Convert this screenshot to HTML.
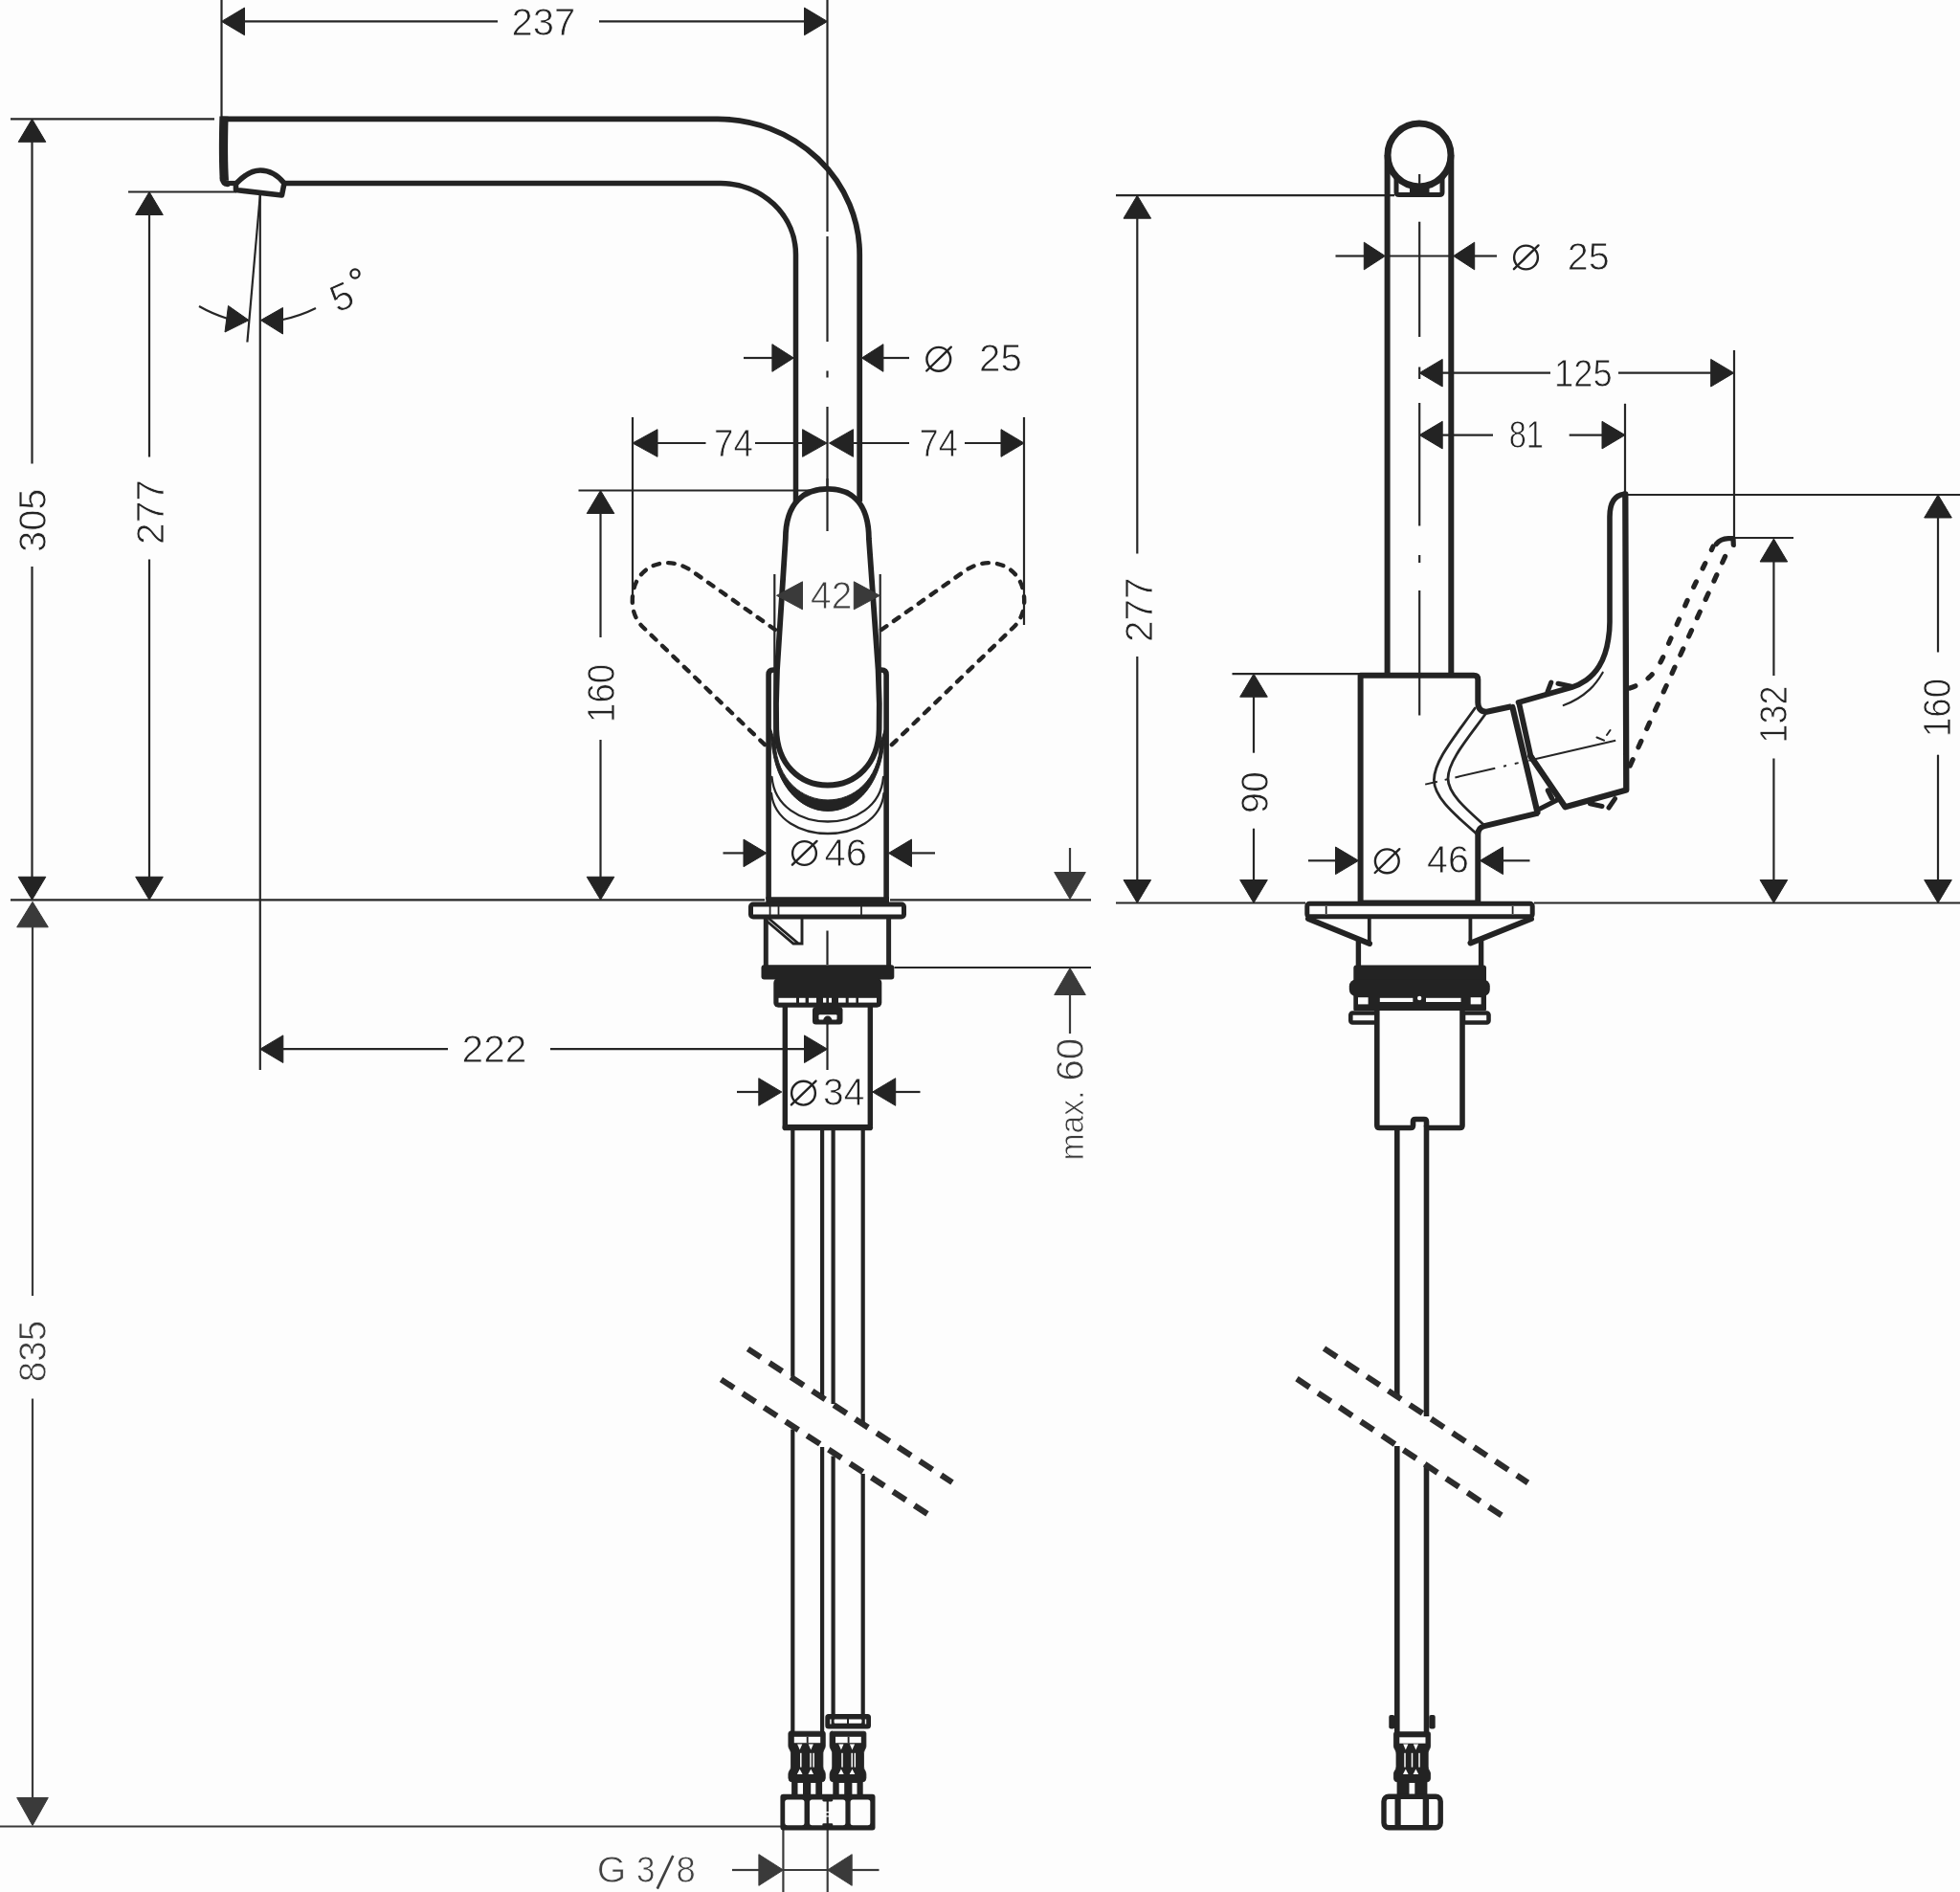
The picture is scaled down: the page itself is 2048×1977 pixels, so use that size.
<!DOCTYPE html>
<html lang="en">
<head>
<meta charset="utf-8">
<title>Dimension drawing</title>
<style>
html,body{margin:0;padding:0;background:#fdfdfd;}
body{width:2048px;height:1977px;overflow:hidden;font-family:"Liberation Sans",sans-serif;}
svg{display:block;will-change:transform;}
svg text{font-family:"Liberation Sans",sans-serif;stroke:#fdfdfd;stroke-width:0.8px;}
</style>
</head>
<body>
<svg width="2048" height="1977" viewBox="0 0 2048 1977">
<rect x="0" y="0" width="2048" height="1977" fill="#fdfdfd"/>
<line x1="231.5" y1="0" x2="231.5" y2="122" stroke="#262626" stroke-width="2.2" stroke-linecap="butt" />
<polygon points="231.5,22.4 255.5,8.1 255.5,36.7" fill="#232323" stroke="#232323" stroke-width="1" stroke-linejoin="round"/>
<line x1="254" y1="22.4" x2="520" y2="22.4" stroke="#262626" stroke-width="2.2" stroke-linecap="butt" />
<text x="534.6" y="36.8" font-size="40.2" fill="#232323" textLength="66.8" lengthAdjust="spacingAndGlyphs">237</text>
<line x1="626" y1="22.4" x2="842" y2="22.4" stroke="#262626" stroke-width="2.2" stroke-linecap="butt" />
<polygon points="864.5,22.4 840.5,8.1 840.5,36.7" fill="#232323" stroke="#232323" stroke-width="1" stroke-linejoin="round"/>
<line x1="864.5" y1="0" x2="864.5" y2="242" stroke="#262626" stroke-width="2.2" stroke-linecap="butt" />
<line x1="864.5" y1="247" x2="864.5" y2="357" stroke="#262626" stroke-width="2.2" stroke-linecap="butt" />
<line x1="864.5" y1="387.5" x2="864.5" y2="394.5" stroke="#262626" stroke-width="2.2" stroke-linecap="butt" />
<line x1="864.5" y1="425" x2="864.5" y2="555" stroke="#262626" stroke-width="2.2" stroke-linecap="butt" />
<line x1="864.5" y1="972.5" x2="864.5" y2="1008" stroke="#262626" stroke-width="2.2" stroke-linecap="butt" />
<line x1="864.5" y1="1063" x2="864.5" y2="1118" stroke="#262626" stroke-width="2.2" stroke-linecap="butt" />
<line x1="11" y1="124.3" x2="224" y2="124.3" stroke="#262626" stroke-width="2.2" stroke-linecap="butt" />
<polygon points="33.5,124.3 19.2,148.3 47.8,148.3" fill="#232323" stroke="#232323" stroke-width="1" stroke-linejoin="round"/>
<line x1="33.5" y1="147" x2="33.5" y2="484.5" stroke="#262626" stroke-width="2.2" stroke-linecap="butt" />
<text transform="translate(47.9,576.9) rotate(-90)" x="0" y="0" font-size="40.2" fill="#232323" textLength="66.3" lengthAdjust="spacingAndGlyphs">305</text>
<line x1="33.5" y1="592" x2="33.5" y2="917" stroke="#262626" stroke-width="2.2" stroke-linecap="butt" />
<polygon points="33.5,940.3 19.2,916.3 47.8,916.3" fill="#232323" stroke="#232323" stroke-width="1" stroke-linejoin="round"/>
<line x1="134" y1="200.5" x2="247" y2="200.5" stroke="#262626" stroke-width="2.2" stroke-linecap="butt" />
<polygon points="156.0,200.5 141.7,224.5 170.3,224.5" fill="#232323" stroke="#232323" stroke-width="1" stroke-linejoin="round"/>
<line x1="156" y1="223" x2="156" y2="477.5" stroke="#262626" stroke-width="2.2" stroke-linecap="butt" />
<text transform="translate(170.9,568.9) rotate(-90)" x="0" y="0" font-size="40.2" fill="#232323" textLength="67.8" lengthAdjust="spacingAndGlyphs">277</text>
<line x1="156" y1="584.5" x2="156" y2="917" stroke="#262626" stroke-width="2.2" stroke-linecap="butt" />
<polygon points="156.0,940.3 141.7,916.3 170.3,916.3" fill="#232323" stroke="#232323" stroke-width="1" stroke-linejoin="round"/>
<line x1="11" y1="940.3" x2="799" y2="940.3" stroke="#262626" stroke-width="2.2" stroke-linecap="butt" />
<line x1="930" y1="940.3" x2="1140" y2="940.3" stroke="#262626" stroke-width="2.2" stroke-linecap="butt" />
<line x1="271.8" y1="204" x2="271.8" y2="1118" stroke="#262626" stroke-width="2.2" stroke-linecap="butt" />
<line x1="271.8" y1="204" x2="258.4" y2="357.5" stroke="#262626" stroke-width="2.2" stroke-linecap="butt" />
<path d="M208,320 Q222,328 238,333" stroke="#262626" stroke-width="2.2" fill="none" stroke-linecap="butt" stroke-linejoin="round" />
<polygon points="260,334.6 238.5,319.5 235,347" fill="#232323" stroke="#232323" stroke-width="1" stroke-linejoin="round"/>
<polygon points="272.5,334.6 295.5,321.5 295.5,349" fill="#232323" stroke="#232323" stroke-width="1" stroke-linejoin="round"/>
<path d="M295.5,334 Q314,330 330,322" stroke="#262626" stroke-width="2.2" fill="none" stroke-linecap="butt" stroke-linejoin="round" />
<text transform="translate(352.6,327.3) rotate(-24)" font-size="40.2" fill="#232323">5</text>
<circle cx="371" cy="286" r="4.6" fill="none" stroke="#232323" stroke-width="2.2"/>
<line x1="777" y1="374" x2="808" y2="374" stroke="#262626" stroke-width="2.2" stroke-linecap="butt" />
<polygon points="829.3,374.0 806.9,359.7 806.9,388.3" fill="#232323" stroke="#232323" stroke-width="1" stroke-linejoin="round"/>
<polygon points="900.5,374.0 922.9,359.7 922.9,388.3" fill="#232323" stroke="#232323" stroke-width="1" stroke-linejoin="round"/>
<line x1="922" y1="374" x2="950" y2="374" stroke="#262626" stroke-width="2.2" stroke-linecap="butt" />
<circle cx="980.8" cy="375.3" r="12.4" fill="none" stroke="#232323" stroke-width="2.4"/>
<line x1="968.1999999999999" y1="387.5" x2="993.8" y2="362.7" stroke="#232323" stroke-width="2.4" stroke-linecap="round" />
<text x="1023.1" y="388.0" font-size="40.2" fill="#232323" textLength="44.8" lengthAdjust="spacingAndGlyphs">25</text>
<line x1="661" y1="436" x2="661" y2="622" stroke="#262626" stroke-width="2.2" stroke-linecap="butt" />
<line x1="1070" y1="436" x2="1070" y2="653" stroke="#262626" stroke-width="2.2" stroke-linecap="butt" />
<polygon points="661.0,463.0 687.0,448.7 687.0,477.3" fill="#232323" stroke="#232323" stroke-width="1" stroke-linejoin="round"/>
<line x1="686" y1="463" x2="737.5" y2="463" stroke="#262626" stroke-width="2.2" stroke-linecap="butt" />
<text x="746.1" y="477.0" font-size="40.2" fill="#232323" textLength="40.8" lengthAdjust="spacingAndGlyphs">74</text>
<line x1="789" y1="463" x2="840" y2="463" stroke="#262626" stroke-width="2.2" stroke-linecap="butt" />
<polygon points="864.0,463.0 838.6,448.7 838.6,477.3" fill="#232323" stroke="#232323" stroke-width="1" stroke-linejoin="round"/>
<polygon points="866.5,463.0 891.5,448.7 891.5,477.3" fill="#232323" stroke="#232323" stroke-width="1" stroke-linejoin="round"/>
<line x1="890" y1="463" x2="950" y2="463" stroke="#262626" stroke-width="2.2" stroke-linecap="butt" />
<text x="960.6" y="477.0" font-size="40.2" fill="#232323" textLength="40.3" lengthAdjust="spacingAndGlyphs">74</text>
<line x1="1008" y1="463" x2="1046" y2="463" stroke="#262626" stroke-width="2.2" stroke-linecap="butt" />
<polygon points="1070.0,463.0 1046.0,448.7 1046.0,477.3" fill="#232323" stroke="#232323" stroke-width="1" stroke-linejoin="round"/>
<line x1="604.5" y1="512.5" x2="847" y2="512.5" stroke="#262626" stroke-width="2.2" stroke-linecap="butt" />
<polygon points="627.5,512.5 613.2,536.5 641.8,536.5" fill="#232323" stroke="#232323" stroke-width="1" stroke-linejoin="round"/>
<line x1="627.5" y1="536" x2="627.5" y2="666" stroke="#262626" stroke-width="2.2" stroke-linecap="butt" />
<text transform="translate(641.9,754.9) rotate(-90)" x="0" y="0" font-size="40.2" fill="#232323" textLength="61.1" lengthAdjust="spacingAndGlyphs">160</text>
<line x1="627.5" y1="773" x2="627.5" y2="917" stroke="#262626" stroke-width="2.2" stroke-linecap="butt" />
<polygon points="627.5,940.3 613.2,916.3 641.8,916.3" fill="#232323" stroke="#232323" stroke-width="1" stroke-linejoin="round"/>
<line x1="755.5" y1="891.4" x2="778" y2="891.4" stroke="#262626" stroke-width="2.2" stroke-linecap="butt" />
<polygon points="801.0,891.4 777.0,877.1 777.0,905.7" fill="#232323" stroke="#232323" stroke-width="1" stroke-linejoin="round"/>
<polygon points="928.5,891.4 952.5,877.1 952.5,905.7" fill="#232323" stroke="#232323" stroke-width="1" stroke-linejoin="round"/>
<line x1="951" y1="891.4" x2="977" y2="891.4" stroke="#262626" stroke-width="2.2" stroke-linecap="butt" />
<line x1="1118" y1="886" x2="1118" y2="912" stroke="#3a3a3a" stroke-width="2.2" stroke-linecap="butt" />
<polygon points="1118.0,939.5 1101.7,911.5 1134.3,911.5" fill="#3a3a3a" stroke="#3a3a3a" stroke-width="1" stroke-linejoin="round"/>
<line x1="934.5" y1="1011" x2="1140" y2="1011" stroke="#262626" stroke-width="2.2" stroke-linecap="butt" />
<polygon points="1118.0,1011.5 1101.7,1039.5 1134.3,1039.5" fill="#3a3a3a" stroke="#3a3a3a" stroke-width="1" stroke-linejoin="round"/>
<line x1="1118" y1="1039" x2="1118" y2="1080" stroke="#3a3a3a" stroke-width="2.2" stroke-linecap="butt" />
<text transform="translate(1132.4,1212.6000000000001) rotate(-90)" x="0" y="0" font-size="34.2" fill="#3a3a3a" textLength="73.1" lengthAdjust="spacingAndGlyphs">max.</text>
<text transform="translate(1132.4,1129.8000000000002) rotate(-90)" x="0" y="0" font-size="40.2" fill="#3a3a3a" textLength="45.2" lengthAdjust="spacingAndGlyphs">60</text>
<polygon points="271.8,1096.2 295.8,1081.9 295.8,1110.5" fill="#232323" stroke="#232323" stroke-width="1" stroke-linejoin="round"/>
<line x1="295" y1="1096.2" x2="468" y2="1096.2" stroke="#262626" stroke-width="2.2" stroke-linecap="butt" />
<text x="482.6" y="1110.0" font-size="40.2" fill="#232323" textLength="67.8" lengthAdjust="spacingAndGlyphs">222</text>
<line x1="575" y1="1096.2" x2="841" y2="1096.2" stroke="#262626" stroke-width="2.2" stroke-linecap="butt" />
<polygon points="864.5,1096.2 840.5,1081.9 840.5,1110.5" fill="#232323" stroke="#232323" stroke-width="1" stroke-linejoin="round"/>
<line x1="770" y1="1141" x2="793" y2="1141" stroke="#262626" stroke-width="2.2" stroke-linecap="butt" />
<polygon points="816.8,1141.0 792.8,1126.7 792.8,1155.3" fill="#232323" stroke="#232323" stroke-width="1" stroke-linejoin="round"/>
<polygon points="911.7,1141.0 935.7,1126.7 935.7,1155.3" fill="#232323" stroke="#232323" stroke-width="1" stroke-linejoin="round"/>
<line x1="935" y1="1141" x2="961.5" y2="1141" stroke="#262626" stroke-width="2.2" stroke-linecap="butt" />
<polygon points="34.0,942.3 17.7,968.8 50.3,968.8" fill="#3a3a3a" stroke="#3a3a3a" stroke-width="1" stroke-linejoin="round"/>
<line x1="34" y1="968" x2="34" y2="1354" stroke="#3a3a3a" stroke-width="2.2" stroke-linecap="butt" />
<text transform="translate(47.9,1444.2) rotate(-90)" x="0" y="0" font-size="40.2" fill="#3a3a3a" textLength="64.4" lengthAdjust="spacingAndGlyphs">835</text>
<line x1="34" y1="1461.5" x2="34" y2="1878" stroke="#3a3a3a" stroke-width="2.2" stroke-linecap="butt" />
<polygon points="34.0,1907.5 17.7,1878.5 50.3,1878.5" fill="#3a3a3a" stroke="#3a3a3a" stroke-width="1" stroke-linejoin="round"/>
<line x1="0" y1="1908.5" x2="817" y2="1908.5" stroke="#3a3a3a" stroke-width="2.2" stroke-linecap="butt" />
<line x1="818.4" y1="1912" x2="818.4" y2="1977" stroke="#3a3a3a" stroke-width="2.2" stroke-linecap="butt" />
<line x1="864.7" y1="1912" x2="864.7" y2="1977" stroke="#3a3a3a" stroke-width="2.2" stroke-linecap="butt" />
<line x1="765" y1="1954" x2="793" y2="1954" stroke="#3a3a3a" stroke-width="2.2" stroke-linecap="butt" />
<polygon points="818.4,1954.0 792.9,1937.7 792.9,1970.3" fill="#3a3a3a" stroke="#3a3a3a" stroke-width="1" stroke-linejoin="round"/>
<line x1="818.4" y1="1954" x2="864.7" y2="1954" stroke="#3a3a3a" stroke-width="2.2" stroke-linecap="butt" />
<polygon points="864.7,1954.0 890.2,1937.7 890.2,1970.3" fill="#3a3a3a" stroke="#3a3a3a" stroke-width="1" stroke-linejoin="round"/>
<line x1="890" y1="1954" x2="918.5" y2="1954" stroke="#3a3a3a" stroke-width="2.2" stroke-linecap="butt" />
<text x="623.8000000000001" y="1967.1" font-size="38.6" fill="#404040" textLength="30.5" lengthAdjust="spacingAndGlyphs">G</text>
<text x="665.1" y="1967.1" font-size="38.6" fill="#404040" textLength="19.5" lengthAdjust="spacingAndGlyphs">3</text>
<line x1="686.8" y1="1973.6" x2="703.3" y2="1939" stroke="#404040" stroke-width="2.7" stroke-linecap="butt" />
<text x="706.5" y="1967.1" font-size="38.6" fill="#404040" textLength="20.3" lengthAdjust="spacingAndGlyphs">8</text>
<path d="M231.5,124.4 H750 A148.2,141.6 0 0 1 898.2,266 V524" stroke="#232323" stroke-width="5.8" fill="none" stroke-linecap="butt" stroke-linejoin="round" />
<path d="M297,191.5 H753 A78.5,74.5 0 0 1 831.5,266 V524" stroke="#232323" stroke-width="5.5" fill="none" stroke-linecap="butt" stroke-linejoin="round" />
<path d="M234,121.7 C233.2,150 233.2,170 234.4,189" stroke="#232323" stroke-width="9.2" fill="none" stroke-linecap="butt" stroke-linejoin="round" />
<path d="M232.5,186 Q232.8,192 238,192.5" stroke="#232323" stroke-width="5.5" fill="none" stroke-linecap="round" stroke-linejoin="round" />
<path d="M234,191.5 H247" stroke="#232323" stroke-width="5.2" fill="none" stroke-linecap="butt" stroke-linejoin="round" />
<path d="M246.5,192 C256,182 264,178 272,178 C282,178 291,184 297,191.5 L294.5,204 L246.5,198.5 Z" stroke="#232323" stroke-width="5.6" fill="#fdfdfd" stroke-linecap="round" stroke-linejoin="round" />
<path d="M810,658 L722,596 C695,578 661,592 660.8,627 C660.4,640 666,650 672,655.5 L800,779" stroke="#232323" stroke-width="4.4" fill="none" stroke-linecap="round" stroke-linejoin="round" stroke-dasharray="6.6 9.2"/>
<path d="M921,658 L1009,596 C1036,578 1070,592 1070.2,627 C1070.6,640 1065,650 1059,655.5 L931,779" stroke="#232323" stroke-width="4.4" fill="none" stroke-linecap="round" stroke-linejoin="round" stroke-dasharray="6.6 9.2"/>
<path d="M803.1,940 V705 Q803.1,700 808,700 H811" stroke="#232323" stroke-width="5.6" fill="none" stroke-linecap="butt" stroke-linejoin="round" />
<path d="M926.1,940 V705 Q926.1,700 921,700 H918" stroke="#232323" stroke-width="5.6" fill="none" stroke-linecap="butt" stroke-linejoin="round" />
<path d="M864.7,510.8 C841,510.8 821,524 820.8,563 L812,700 L811,735 L811.2,760 C811.2,799 836,820.5 864.8,820.5 C893.6,820.5 918.6,799 918.6,760 L918.8,735 L917.6,700 L907.9,563 C907.7,524 888.4,510.8 864.7,510.8 Z" stroke="#232323" stroke-width="5.8" fill="#fdfdfd" stroke-linecap="round" stroke-linejoin="round" />
<line x1="864.5" y1="500" x2="864.5" y2="555" stroke="#262626" stroke-width="2.2" stroke-linecap="butt" />
<line x1="809.3" y1="600" x2="809.3" y2="788" stroke="#262626" stroke-width="2.2" stroke-linecap="butt" />
<line x1="919.7" y1="600" x2="919.7" y2="788" stroke="#262626" stroke-width="2.2" stroke-linecap="butt" />
<polygon points="811.5,622.3 838.5,607.8 838.5,636.8" fill="#3a3a3a" stroke="#3a3a3a" stroke-width="1" stroke-linejoin="round"/>
<polygon points="919.3,622.3 892.3,607.8 892.3,636.8" fill="#3a3a3a" stroke="#3a3a3a" stroke-width="1" stroke-linejoin="round"/>
<text x="847.1" y="635.5" font-size="40.2" fill="#404040" textLength="43.1" lengthAdjust="spacingAndGlyphs">42</text>
<path d="M805.5,762 C806,876 924,876 924.5,762 L920,776 C916,856 814,856 810,776 Z" stroke="#232323" stroke-width="1" fill="#232323" stroke-linecap="round" stroke-linejoin="round" />
<path d="M806.5,812 C812,874 918,874 923,812" stroke="#262626" stroke-width="2.3" fill="none" stroke-linecap="round" stroke-linejoin="round" />
<path d="M806,829 C812,885 918,885 923.5,829" stroke="#262626" stroke-width="2.3" fill="none" stroke-linecap="round" stroke-linejoin="round" />
<circle cx="840.5" cy="891.5" r="12.4" fill="none" stroke="#232323" stroke-width="2.4"/>
<line x1="827.9" y1="903.7" x2="853.5" y2="878.9" stroke="#232323" stroke-width="2.4" stroke-linecap="round" />
<text x="861.6" y="904.5" font-size="40.2" fill="#232323" textLength="44.5" lengthAdjust="spacingAndGlyphs">46</text>
<line x1="800.3" y1="941.2" x2="929" y2="941.2" stroke="#232323" stroke-width="7.8" stroke-linecap="butt" />
<rect x="784.5" y="945" width="160" height="13" rx="2.5" fill="#fdfdfd" stroke="#232323" stroke-width="5"/>
<line x1="804.6" y1="947" x2="804.6" y2="956" stroke="#262626" stroke-width="1.8" stroke-linecap="butt" />
<line x1="813.5" y1="947" x2="813.5" y2="956" stroke="#262626" stroke-width="1.8" stroke-linecap="butt" />
<line x1="900" y1="947" x2="900" y2="956" stroke="#262626" stroke-width="1.8" stroke-linecap="butt" />
<line x1="800.3" y1="960" x2="800.3" y2="1010" stroke="#262626" stroke-width="5" stroke-linecap="butt" />
<line x1="928.6" y1="960" x2="928.6" y2="1010" stroke="#262626" stroke-width="5" stroke-linecap="butt" />
<path d="M799.5,961 L829,986 H838 V960" stroke="#232323" stroke-width="2.9" fill="none" stroke-linecap="round" stroke-linejoin="miter" />
<path d="M804.2,960.5 L833.2,985" stroke="#232323" stroke-width="2.8" fill="none" stroke-linecap="round" stroke-linejoin="round" />
<rect x="795.5" y="1008.2" width="138.8" height="15.3" rx="3" fill="#232323" stroke="none" stroke-width="0"/>
<rect x="808.3" y="1022" width="113" height="30.8" rx="5" fill="#232323" stroke="none" stroke-width="0"/>
<rect x="813.5" y="1042.8" width="18.5" height="4.8" rx="0" fill="#fdfdfd" stroke="none" stroke-width="0"/>
<rect x="835" y="1042.8" width="6.600000000000023" height="4.8" rx="0" fill="#fdfdfd" stroke="none" stroke-width="0"/>
<rect x="845" y="1042.8" width="8" height="4.8" rx="0" fill="#fdfdfd" stroke="none" stroke-width="0"/>
<rect x="860" y="1042.8" width="3.2999999999999545" height="4.8" rx="0" fill="#fdfdfd" stroke="none" stroke-width="0"/>
<rect x="866" y="1042.8" width="3" height="4.8" rx="0" fill="#fdfdfd" stroke="none" stroke-width="0"/>
<rect x="876" y="1042.8" width="7.7000000000000455" height="4.8" rx="0" fill="#fdfdfd" stroke="none" stroke-width="0"/>
<rect x="886.7" y="1042.8" width="7.699999999999932" height="4.8" rx="0" fill="#fdfdfd" stroke="none" stroke-width="0"/>
<rect x="897" y="1042.8" width="19" height="4.8" rx="0" fill="#fdfdfd" stroke="none" stroke-width="0"/>
<rect x="849" y="1052" width="31.5" height="18.5" rx="3.5" fill="#232323" stroke="none" stroke-width="0"/>
<rect x="855.5" y="1060.2" width="19" height="5.2" rx="1" fill="#fdfdfd" stroke="none" stroke-width="0"/>
<ellipse cx="864.8" cy="1066" rx="4.6" ry="4.4" fill="#232323"/>
<path d="M820.3,1052 V1176 Q820.3,1178 822.5,1178 H907 Q909.3,1178 909.3,1176 V1052" stroke="#232323" stroke-width="5.4" fill="none" stroke-linecap="butt" stroke-linejoin="round" />
<line x1="820.5" y1="1178.2" x2="909" y2="1178.2" stroke="#232323" stroke-width="6.2" stroke-linecap="round" />
<circle cx="839.5" cy="1142.2" r="12.4" fill="none" stroke="#232323" stroke-width="2.4"/>
<line x1="826.9" y1="1154.4" x2="852.5" y2="1129.6000000000001" stroke="#232323" stroke-width="2.4" stroke-linecap="round" />
<text x="860.1" y="1155.1" font-size="40.2" fill="#232323" textLength="43.3" lengthAdjust="spacingAndGlyphs">34</text>
<line x1="828.3" y1="1180" x2="828.3" y2="1438.5" stroke="#232323" stroke-width="4.2" stroke-linecap="butt" />
<line x1="828.3" y1="1493.5" x2="828.3" y2="1810" stroke="#232323" stroke-width="4.2" stroke-linecap="butt" />
<line x1="859.1" y1="1180" x2="859.1" y2="1458.5" stroke="#232323" stroke-width="4.2" stroke-linecap="butt" />
<line x1="859.1" y1="1512" x2="859.1" y2="1810" stroke="#232323" stroke-width="4.2" stroke-linecap="butt" />
<line x1="870.6" y1="1180" x2="870.6" y2="1467" stroke="#232323" stroke-width="4.2" stroke-linecap="butt" />
<line x1="870.6" y1="1521.5" x2="870.6" y2="1793" stroke="#232323" stroke-width="4.2" stroke-linecap="butt" />
<line x1="901.7" y1="1180" x2="901.7" y2="1486.5" stroke="#232323" stroke-width="4.2" stroke-linecap="butt" />
<line x1="901.7" y1="1540" x2="901.7" y2="1793" stroke="#232323" stroke-width="4.2" stroke-linecap="butt" />
<line x1="781.5" y1="1409.5" x2="995" y2="1549" stroke="#2c2c2c" stroke-width="6.2" stroke-linecap="butt" stroke-dasharray="16 10.8"/>
<line x1="753.5" y1="1441.5" x2="969.5" y2="1582.3" stroke="#2c2c2c" stroke-width="6.2" stroke-linecap="butt" stroke-dasharray="16 10.8"/>
<path d="M825.9,1809.2 H860.3 Q862.3,1809.2 862.3,1811.2 V1824 C862.3,1828 859.9,1828 859.9,1833 V1846 C859.9,1850 862.3,1850 862.3,1854 V1858 Q862.3,1862 858.3,1862 H827.9 Q823.9,1862 823.9,1858 V1854 C823.9,1850 826.5,1850 826.5,1846 V1833 C826.5,1828 823.9,1828 823.9,1824 V1811.2 Q823.9,1809.2 825.9,1809.2 Z" stroke="#232323" stroke-width="0.8" fill="#232323" stroke-linecap="round" stroke-linejoin="round" />
<rect x="829.8" y="1814.8" width="27.399999999999977" height="6.4" rx="0" fill="#fdfdfd" stroke="none" stroke-width="0"/>
<line x1="843.6999999999999" y1="1814.8" x2="843.6999999999999" y2="1821.4" stroke="#232323" stroke-width="1.9" stroke-linecap="butt" />
<polygon points="833.0999999999999,1822.6 838.3,1822.6 835.6999999999999,1828.4" fill="#fdfdfd"/>
<polygon points="832.9,1854 838.4999999999999,1854 835.6999999999999,1848.4" fill="#fdfdfd"/>
<polygon points="844.6999999999999,1822.6 849.9,1822.6 847.3,1828.4" fill="#fdfdfd"/>
<polygon points="844.5,1854 850.0999999999999,1854 847.3,1848.4" fill="#fdfdfd"/>
<rect x="836.05" y="1831.8" width="1.5" height="14.8" rx="0" fill="#fdfdfd" stroke="none" stroke-width="0"/>
<rect x="846.25" y="1831.8" width="1.5" height="14.8" rx="0" fill="#fdfdfd" stroke="none" stroke-width="0"/>
<rect x="849.35" y="1831.8" width="1.5" height="14.8" rx="0" fill="#fdfdfd" stroke="none" stroke-width="0"/>
<rect x="827.1" y="1861" width="31.999999999999886" height="15" rx="0" fill="#232323" stroke="none" stroke-width="0"/>
<rect x="833.5" y="1863" width="5.5" height="12" rx="0" fill="#fdfdfd" stroke="none" stroke-width="0"/>
<rect x="847.1999999999999" y="1863" width="5.099999999999998" height="12" rx="0" fill="#fdfdfd" stroke="none" stroke-width="0"/>
<rect x="862.3" y="1791.1" width="47.7" height="15.5" rx="3.5" fill="#232323" stroke="none" stroke-width="0"/>
<rect x="871.6" y="1796.4" width="28.8" height="4.4" rx="1" fill="#fdfdfd" stroke="none" stroke-width="0"/>
<line x1="886" y1="1795.5" x2="886" y2="1802" stroke="#232323" stroke-width="2.0" stroke-linecap="butt" />
<line x1="867.9" y1="1796.5" x2="867.9" y2="1801.5" stroke="#fdfdfd" stroke-width="1.4" stroke-linecap="butt" />
<line x1="904.5" y1="1796.5" x2="904.5" y2="1801.5" stroke="#fdfdfd" stroke-width="1.4" stroke-linecap="butt" />
<path d="M869.1,1809.2 H902.9 Q904.9,1809.2 904.9,1811.2 V1824 C904.9,1828 902.5,1828 902.5,1833 V1846 C902.5,1850 904.9,1850 904.9,1854 V1858 Q904.9,1862 900.9,1862 H871.1 Q867.1,1862 867.1,1858 V1854 C867.1,1850 869.7,1850 869.7,1846 V1833 C869.7,1828 867.1,1828 867.1,1824 V1811.2 Q867.1,1809.2 869.1,1809.2 Z" stroke="#232323" stroke-width="0.8" fill="#232323" stroke-linecap="round" stroke-linejoin="round" />
<rect x="873.0" y="1814.8" width="26.799999999999955" height="6.4" rx="0" fill="#fdfdfd" stroke="none" stroke-width="0"/>
<line x1="886.6" y1="1814.8" x2="886.6" y2="1821.4" stroke="#232323" stroke-width="1.9" stroke-linecap="butt" />
<polygon points="876.3,1822.6 881.5,1822.6 878.9,1828.4" fill="#fdfdfd"/>
<polygon points="876.1,1854 881.6999999999999,1854 878.9,1848.4" fill="#fdfdfd"/>
<polygon points="887.9,1822.6 893.1,1822.6 890.5,1828.4" fill="#fdfdfd"/>
<polygon points="887.7,1854 893.3,1854 890.5,1848.4" fill="#fdfdfd"/>
<rect x="879.25" y="1831.8" width="1.5" height="14.8" rx="0" fill="#fdfdfd" stroke="none" stroke-width="0"/>
<rect x="889.45" y="1831.8" width="1.5" height="14.8" rx="0" fill="#fdfdfd" stroke="none" stroke-width="0"/>
<rect x="892.5500000000001" y="1831.8" width="1.5" height="14.8" rx="0" fill="#fdfdfd" stroke="none" stroke-width="0"/>
<rect x="870.3000000000001" y="1861" width="31.399999999999864" height="15" rx="0" fill="#232323" stroke="none" stroke-width="0"/>
<rect x="876.7" y="1863" width="5.5" height="12" rx="0" fill="#fdfdfd" stroke="none" stroke-width="0"/>
<rect x="890.4" y="1863" width="5.099999999999998" height="12" rx="0" fill="#fdfdfd" stroke="none" stroke-width="0"/>
<rect x="815.4" y="1874.7" width="99.1" height="37.7" rx="3" fill="#232323" stroke="none" stroke-width="0"/>
<rect x="820.2" y="1880.6" width="20.3" height="26.6" rx="2.5" fill="#fdfdfd" stroke="none" stroke-width="0"/>
<rect x="846" y="1880.6" width="37.4" height="26.6" rx="2.5" fill="#fdfdfd" stroke="none" stroke-width="0"/>
<rect x="888.6" y="1880.6" width="20.7" height="26.6" rx="2.5" fill="#fdfdfd" stroke="none" stroke-width="0"/>
<rect x="859.3" y="1879.5" width="11" height="3" rx="1.4" fill="#232323" stroke="none" stroke-width="0"/>
<rect x="859.3" y="1905.3" width="11" height="3" rx="1.4" fill="#232323" stroke="none" stroke-width="0"/>
<line x1="864.7" y1="1880" x2="864.7" y2="1908" stroke="#232323" stroke-width="2.2" stroke-linecap="butt" stroke-dasharray="13 1.2 3 1.2"/>
<line x1="1166" y1="204.2" x2="1457" y2="204.2" stroke="#262626" stroke-width="2.2" stroke-linecap="butt" />
<polygon points="1188.3,204.2 1174.0,228.2 1202.6,228.2" fill="#232323" stroke="#232323" stroke-width="1" stroke-linejoin="round"/>
<line x1="1188.3" y1="227" x2="1188.3" y2="578.5" stroke="#262626" stroke-width="2.2" stroke-linecap="butt" />
<text transform="translate(1204.4,670.9) rotate(-90)" x="0" y="0" font-size="40.2" fill="#232323" textLength="67.3" lengthAdjust="spacingAndGlyphs">277</text>
<line x1="1188.3" y1="686" x2="1188.3" y2="920" stroke="#262626" stroke-width="2.2" stroke-linecap="butt" />
<polygon points="1188.3,943.5 1174.0,919.5 1202.6,919.5" fill="#232323" stroke="#232323" stroke-width="1" stroke-linejoin="round"/>
<line x1="1166" y1="943.5" x2="1364" y2="943.5" stroke="#262626" stroke-width="2.2" stroke-linecap="butt" />
<line x1="1603" y1="943.5" x2="2048" y2="943.5" stroke="#262626" stroke-width="2.2" stroke-linecap="butt" />
<line x1="1483.2" y1="182" x2="1483.2" y2="193" stroke="#262626" stroke-width="2.2" stroke-linecap="butt" />
<line x1="1483.2" y1="231.7" x2="1483.2" y2="352" stroke="#262626" stroke-width="2.2" stroke-linecap="butt" />
<line x1="1483.2" y1="383.5" x2="1483.2" y2="396" stroke="#262626" stroke-width="2.2" stroke-linecap="butt" />
<line x1="1483.2" y1="421" x2="1483.2" y2="549.5" stroke="#262626" stroke-width="2.2" stroke-linecap="butt" />
<line x1="1483.2" y1="580" x2="1483.2" y2="588" stroke="#262626" stroke-width="2.2" stroke-linecap="butt" />
<line x1="1483.2" y1="617" x2="1483.2" y2="747.5" stroke="#262626" stroke-width="2.2" stroke-linecap="butt" />
<line x1="1395.5" y1="267.5" x2="1426" y2="267.5" stroke="#262626" stroke-width="2.2" stroke-linecap="butt" />
<polygon points="1447.3,267.5 1425.3,253.2 1425.3,281.8" fill="#232323" stroke="#232323" stroke-width="1" stroke-linejoin="round"/>
<line x1="1447" y1="267.5" x2="1519" y2="267.5" stroke="#262626" stroke-width="2.2" stroke-linecap="butt" />
<polygon points="1518.7,267.5 1540.7,253.2 1540.7,281.8" fill="#232323" stroke="#232323" stroke-width="1" stroke-linejoin="round"/>
<line x1="1540" y1="267.5" x2="1564" y2="267.5" stroke="#262626" stroke-width="2.2" stroke-linecap="butt" />
<circle cx="1594.5" cy="269" r="12.4" fill="none" stroke="#232323" stroke-width="2.4"/>
<line x1="1581.9" y1="281.2" x2="1607.5" y2="256.4" stroke="#232323" stroke-width="2.4" stroke-linecap="round" />
<text x="1637.8" y="282.2" font-size="40.2" fill="#232323" textLength="43.9" lengthAdjust="spacingAndGlyphs">25</text>
<polygon points="1483.2,389.7 1507.2,375.4 1507.2,404.0" fill="#232323" stroke="#232323" stroke-width="1" stroke-linejoin="round"/>
<line x1="1506" y1="389.7" x2="1620" y2="389.7" stroke="#262626" stroke-width="2.2" stroke-linecap="butt" />
<text x="1624.1" y="403.7" font-size="40.2" fill="#232323" textLength="60.6" lengthAdjust="spacingAndGlyphs">125</text>
<line x1="1691" y1="389.7" x2="1788" y2="389.7" stroke="#262626" stroke-width="2.2" stroke-linecap="butt" />
<polygon points="1811.7,389.7 1787.7,375.4 1787.7,404.0" fill="#232323" stroke="#232323" stroke-width="1" stroke-linejoin="round"/>
<line x1="1812" y1="366" x2="1812" y2="568" stroke="#262626" stroke-width="2.2" stroke-linecap="butt" />
<polygon points="1483.2,454.6 1507.2,440.3 1507.2,468.9" fill="#232323" stroke="#232323" stroke-width="1" stroke-linejoin="round"/>
<line x1="1506" y1="454.6" x2="1560" y2="454.6" stroke="#262626" stroke-width="2.2" stroke-linecap="butt" />
<text x="1576.6999999999998" y="468.1" font-size="40.2" fill="#232323" textLength="36.2" lengthAdjust="spacingAndGlyphs">81</text>
<line x1="1639.7" y1="454.6" x2="1675" y2="454.6" stroke="#262626" stroke-width="2.2" stroke-linecap="butt" />
<polygon points="1698.0,454.6 1674.0,440.3 1674.0,468.9" fill="#232323" stroke="#232323" stroke-width="1" stroke-linejoin="round"/>
<line x1="1698" y1="421.8" x2="1698" y2="516" stroke="#262626" stroke-width="2.2" stroke-linecap="butt" />
<line x1="1287.5" y1="704.2" x2="1421" y2="704.2" stroke="#262626" stroke-width="2.2" stroke-linecap="butt" />
<polygon points="1310.0,704.2 1295.7,728.2 1324.3,728.2" fill="#232323" stroke="#232323" stroke-width="1" stroke-linejoin="round"/>
<line x1="1310" y1="727" x2="1310" y2="786.7" stroke="#262626" stroke-width="2.2" stroke-linecap="butt" />
<text transform="translate(1324.7,849.9) rotate(-90)" x="0" y="0" font-size="40.2" fill="#232323" textLength="43.8" lengthAdjust="spacingAndGlyphs">90</text>
<line x1="1310" y1="865.7" x2="1310" y2="920" stroke="#262626" stroke-width="2.2" stroke-linecap="butt" />
<polygon points="1310.0,943.5 1295.7,919.5 1324.3,919.5" fill="#232323" stroke="#232323" stroke-width="1" stroke-linejoin="round"/>
<line x1="1367" y1="899.3" x2="1398" y2="899.3" stroke="#262626" stroke-width="2.2" stroke-linecap="butt" />
<polygon points="1419.5,899.3 1395.5,885.0 1395.5,913.6" fill="#232323" stroke="#232323" stroke-width="1" stroke-linejoin="round"/>
<polygon points="1546.5,899.3 1570.5,885.0 1570.5,913.6" fill="#232323" stroke="#232323" stroke-width="1" stroke-linejoin="round"/>
<line x1="1569" y1="899.3" x2="1598.5" y2="899.3" stroke="#262626" stroke-width="2.2" stroke-linecap="butt" />
<circle cx="1449.3" cy="899.8" r="12.4" fill="none" stroke="#232323" stroke-width="2.4"/>
<line x1="1436.7" y1="912.0" x2="1462.3" y2="887.1999999999999" stroke="#232323" stroke-width="2.4" stroke-linecap="round" />
<text x="1491.1" y="911.8" font-size="40.2" fill="#232323" textLength="43.8" lengthAdjust="spacingAndGlyphs">46</text>
<line x1="1698" y1="517" x2="2048" y2="517" stroke="#262626" stroke-width="2.2" stroke-linecap="butt" />
<polygon points="2025.0,517.0 2010.7,541.0 2039.3,541.0" fill="#232323" stroke="#232323" stroke-width="1" stroke-linejoin="round"/>
<line x1="2025" y1="540" x2="2025" y2="681.5" stroke="#262626" stroke-width="2.2" stroke-linecap="butt" />
<text transform="translate(2038.4,769.9) rotate(-90)" x="0" y="0" font-size="40.2" fill="#232323" textLength="60.8" lengthAdjust="spacingAndGlyphs">160</text>
<line x1="2025" y1="788.7" x2="2025" y2="920" stroke="#262626" stroke-width="2.2" stroke-linecap="butt" />
<polygon points="2025.0,943.5 2010.7,919.5 2039.3,919.5" fill="#232323" stroke="#232323" stroke-width="1" stroke-linejoin="round"/>
<line x1="1812" y1="562" x2="1874" y2="562" stroke="#262626" stroke-width="2.2" stroke-linecap="butt" />
<polygon points="1853.4,563.0 1839.1,587.0 1867.7,587.0" fill="#232323" stroke="#232323" stroke-width="1" stroke-linejoin="round"/>
<line x1="1853.4" y1="586" x2="1853.4" y2="706" stroke="#262626" stroke-width="2.2" stroke-linecap="butt" />
<text transform="translate(1867.4,776.5) rotate(-90)" x="0" y="0" font-size="40.2" fill="#232323" textLength="59.9" lengthAdjust="spacingAndGlyphs">132</text>
<line x1="1853.4" y1="792.5" x2="1853.4" y2="920" stroke="#262626" stroke-width="2.2" stroke-linecap="butt" />
<polygon points="1853.4,943.5 1839.1,919.5 1867.7,919.5" fill="#232323" stroke="#232323" stroke-width="1" stroke-linejoin="round"/>
<line x1="1449.6" y1="162" x2="1449.6" y2="703" stroke="#232323" stroke-width="6" stroke-linecap="butt" />
<line x1="1516.3" y1="162" x2="1516.3" y2="703" stroke="#232323" stroke-width="6" stroke-linecap="butt" />
<path d="M1459,183 V201 Q1459,203.5 1462,203.5 H1504 Q1507,203.5 1507,201 V183" stroke="#232323" stroke-width="5" fill="#fdfdfd" stroke-linecap="butt" stroke-linejoin="round" />
<polygon points="1468,199 1476,199 1466,188" fill="none"/>
<rect x="1473" y="191" width="20.5" height="10" rx="0" fill="#232323" stroke="none" stroke-width="0"/>
<circle cx="1483" cy="162" r="33" fill="#fdfdfd" stroke="#232323" stroke-width="7"/>
<line x1="1483.2" y1="182" x2="1483.2" y2="192" stroke="#262626" stroke-width="2.2" stroke-linecap="butt" />
<path d="M1421.6,943.5 V705.7 H1540 Q1544.3,705.7 1544.3,710 V734 Q1544.5,744 1553.5,743.7 L1579.2,738.2" stroke="#232323" stroke-width="6" fill="none" stroke-linecap="butt" stroke-linejoin="round" />
<path d="M1607.3,849.6 L1551,863.2 Q1544.3,865 1544.3,872 V943.5" stroke="#232323" stroke-width="6" fill="none" stroke-linecap="butt" stroke-linejoin="round" />
<path d="M1541.2,740 C1520,770 1498.4,795 1498.4,815 C1498.4,835 1525,855 1542.4,871" stroke="#262626" stroke-width="2.8" fill="none" stroke-linecap="round" stroke-linejoin="round" />
<path d="M1552.2,746 C1535,770 1513,795 1513,813.5 C1513,830 1535,848 1549.8,861.2" stroke="#262626" stroke-width="2.8" fill="none" stroke-linecap="round" stroke-linejoin="round" />
<path d="M1580.4,739 L1606.5,849" stroke="#232323" stroke-width="6.2" fill="none" stroke-linecap="round" stroke-linejoin="round" />
<path d="M1587.5,736 L1599.4,790.2" stroke="#232323" stroke-width="5.8" fill="none" stroke-linecap="round" stroke-linejoin="round" />
<path d="M1607.3,846 L1627,836" stroke="#232323" stroke-width="5" fill="none" stroke-linecap="round" stroke-linejoin="round" />
<path d="M1586.5,734 L1642.9,718 C1650,716 1654,713 1657.5,710.6 C1664,706 1668,701 1671,696 C1676,688 1679,678 1680.5,668 C1681.5,662 1682,656 1682,650 V540 C1682,524 1688,517.5 1697,516.3" stroke="#232323" stroke-width="5.6" fill="none" stroke-linecap="round" stroke-linejoin="round" />
<path d="M1698.3,516.5 L1699.3,825.5 L1635.5,843.3 L1599.4,790.2" stroke="#232323" stroke-width="6.3" fill="none" stroke-linecap="round" stroke-linejoin="round" />
<path d="M1633.7,737 C1645,733 1654,727 1661.2,720.4 C1667,715 1671,709 1674.7,702.7" stroke="#262626" stroke-width="2.2" fill="none" stroke-linecap="round" stroke-linejoin="round" />
<line x1="1489.2" y1="819.6" x2="1688.2" y2="773.7" stroke="#262626" stroke-width="2.0" stroke-linecap="butt" stroke-dasharray="13 8 3 8 43 9 3 9 4 11 200"/>
<path d="M1668.5,770.5 L1676,773.7 M1679,768 L1682.5,763" stroke="#262626" stroke-width="2" fill="none" stroke-linecap="round" stroke-linejoin="round" />
<path d="M1703,719 C1712,716 1719,712 1724,707 C1733,698 1738,687 1742,676 L1765,623 L1785,582 L1790,571" stroke="#232323" stroke-width="5.2" fill="none" stroke-linecap="round" stroke-linejoin="round" stroke-dasharray="6 15.5"/>
<path d="M1793.4,568.4 Q1797.5,563 1806,562.6 L1811,562.6 L1811.3,569.5" stroke="#232323" stroke-width="5.2" fill="none" stroke-linecap="round" stroke-linejoin="round" />
<path d="M1802.6,581.4 L1703,800.5" stroke="#232323" stroke-width="5.2" fill="none" stroke-linecap="round" stroke-linejoin="round" stroke-dasharray="7 14.2"/>
<path d="M1661.5,839.7 L1674,842.5 M1681,844 L1687.5,834.6" stroke="#232323" stroke-width="5" fill="none" stroke-linecap="round" stroke-linejoin="round" />
<path d="M1617,723 L1620.8,713 M1628,714.3 L1642,717.3" stroke="#232323" stroke-width="5" fill="none" stroke-linecap="round" stroke-linejoin="round" />
<path d="M1617.5,826 L1621.5,834" stroke="#232323" stroke-width="5.4" fill="none" stroke-linecap="round" stroke-linejoin="round" />
<line x1="1419" y1="943.8" x2="1547" y2="943.8" stroke="#232323" stroke-width="6.4" stroke-linecap="butt" />
<rect x="1365.8" y="944.3" width="235.4" height="13.4" rx="2.5" fill="#fdfdfd" stroke="#232323" stroke-width="5"/>
<line x1="1385.7" y1="947" x2="1385.7" y2="955" stroke="#262626" stroke-width="1.8" stroke-linecap="butt" />
<line x1="1580.6" y1="947" x2="1580.6" y2="955" stroke="#262626" stroke-width="1.8" stroke-linecap="butt" />
<path d="M1367,960 L1431,986" stroke="#232323" stroke-width="6" fill="none" stroke-linecap="round" stroke-linejoin="round" />
<line x1="1430.8" y1="960" x2="1430.8" y2="986" stroke="#232323" stroke-width="3.8" stroke-linecap="butt" />
<path d="M1600,960 L1536.5,985.5" stroke="#232323" stroke-width="6" fill="none" stroke-linecap="round" stroke-linejoin="round" />
<line x1="1536.4" y1="960" x2="1536.4" y2="985.5" stroke="#232323" stroke-width="3.8" stroke-linecap="butt" />
<line x1="1419.4" y1="982" x2="1419.4" y2="1010" stroke="#232323" stroke-width="5.4" stroke-linecap="butt" />
<line x1="1547.6" y1="982" x2="1547.6" y2="1010" stroke="#232323" stroke-width="5.4" stroke-linecap="butt" />
<rect x="1414.3" y="1008.5" width="138.7" height="20" rx="3" fill="#232323" stroke="none" stroke-width="0"/>
<rect x="1409.8" y="1023.5" width="147" height="17.5" rx="7" fill="#232323" stroke="none" stroke-width="0"/>
<rect x="1414.3" y="1036" width="138.7" height="20" rx="1" fill="#232323" stroke="none" stroke-width="0"/>
<rect x="1419" y="1042.2" width="10.6" height="7.2" rx="0" fill="#fdfdfd" stroke="none" stroke-width="0"/>
<rect x="1536.7" y="1042.2" width="10.9" height="7.2" rx="0" fill="#fdfdfd" stroke="none" stroke-width="0"/>
<rect x="1441.8" y="1042.8" width="34.5" height="4.2" rx="0" fill="#fdfdfd" stroke="none" stroke-width="0"/>
<rect x="1490" y="1042.8" width="36.5" height="4.2" rx="0" fill="#fdfdfd" stroke="none" stroke-width="0"/>
<circle cx="1483.2" cy="1043" r="2.2" fill="#fdfdfd"/>
<rect x="1438" y="1047" width="91" height="6" rx="0" fill="#232323" stroke="none" stroke-width="0"/>
<rect x="1411.3" y="1058.5" width="27" height="10" rx="2" fill="#fdfdfd" stroke="#232323" stroke-width="4.6"/>
<rect x="1529" y="1058.5" width="26.5" height="10" rx="2" fill="#fdfdfd" stroke="#232323" stroke-width="4.6"/>
<path d="M1438.8,1050 V1176 Q1438.8,1178.5 1441.5,1178.5 H1474 Q1476.5,1178.5 1476.5,1176 V1172 Q1476.5,1169.5 1479,1169.5 H1488 Q1490.5,1169.5 1490.5,1172 V1176 Q1490.5,1178.5 1493,1178.5 H1525.5 Q1528,1178.5 1528,1176 V1050" stroke="#232323" stroke-width="5.6" fill="none" stroke-linecap="butt" stroke-linejoin="round" />
<line x1="1459.8" y1="1180" x2="1459.8" y2="1459.5" stroke="#232323" stroke-width="5.6" stroke-linecap="butt" />
<line x1="1490.5" y1="1176" x2="1490.5" y2="1480" stroke="#232323" stroke-width="5.6" stroke-linecap="butt" />
<line x1="1459.8" y1="1511" x2="1459.8" y2="1811" stroke="#232323" stroke-width="5.6" stroke-linecap="butt" />
<line x1="1490.5" y1="1530.5" x2="1490.5" y2="1811" stroke="#232323" stroke-width="5.6" stroke-linecap="butt" />
<line x1="1383.5" y1="1409" x2="1596.5" y2="1549.3" stroke="#2c2c2c" stroke-width="6.2" stroke-linecap="butt" stroke-dasharray="16 10.8"/>
<line x1="1355" y1="1440.7" x2="1569.8" y2="1584" stroke="#2c2c2c" stroke-width="6.2" stroke-linecap="butt" stroke-dasharray="16 10.8"/>
<rect x="1451.3" y="1792" width="6" height="14.6" rx="2" fill="#232323" stroke="none" stroke-width="0"/>
<rect x="1493.3" y="1792" width="6.4" height="14.6" rx="2" fill="#232323" stroke="none" stroke-width="0"/>
<path d="M1458.4,1809.7 H1492.6 Q1494.6,1809.7 1494.6,1811.7 V1824 C1494.6,1828 1492.1999999999998,1828 1492.1999999999998,1833 V1846 C1492.1999999999998,1850 1494.6,1850 1494.6,1854 V1858 Q1494.6,1862 1490.6,1862 H1460.4 Q1456.4,1862 1456.4,1858 V1854 C1456.4,1850 1459.0,1850 1459.0,1846 V1833 C1459.0,1828 1456.4,1828 1456.4,1824 V1811.7 Q1456.4,1809.7 1458.4,1809.7 Z" stroke="#232323" stroke-width="0.8" fill="#232323" stroke-linecap="round" stroke-linejoin="round" />
<rect x="1462.3000000000002" y="1815.3" width="27.199999999999818" height="6.4" rx="0" fill="#fdfdfd" stroke="none" stroke-width="0"/>
<polygon points="1466.2000000000003,1822.6 1471.4,1822.6 1468.8000000000002,1828.4" fill="#fdfdfd"/>
<polygon points="1466.0000000000002,1854 1471.6000000000001,1854 1468.8000000000002,1848.4" fill="#fdfdfd"/>
<polygon points="1476.8000000000002,1822.6 1482.0,1822.6 1479.4,1828.4" fill="#fdfdfd"/>
<polygon points="1476.6000000000001,1854 1482.2,1854 1479.4,1848.4" fill="#fdfdfd"/>
<rect x="1467.25" y="1831.8" width="1.5" height="14.8" rx="0" fill="#fdfdfd" stroke="none" stroke-width="0"/>
<rect x="1474.75" y="1831.8" width="1.5" height="14.8" rx="0" fill="#fdfdfd" stroke="none" stroke-width="0"/>
<rect x="1482.25" y="1831.8" width="1.5" height="14.8" rx="0" fill="#fdfdfd" stroke="none" stroke-width="0"/>
<rect x="1459.6000000000001" y="1861" width="31.799999999999727" height="15" rx="0" fill="#232323" stroke="none" stroke-width="0"/>
<rect x="1472.5" y="1863" width="5.799999999999997" height="12" rx="0" fill="#fdfdfd" stroke="none" stroke-width="0"/>
<rect x="1446" y="1877.3" width="59.2" height="32.4" rx="5" fill="#fdfdfd" stroke="#232323" stroke-width="5.4"/>
<rect x="1457.5" y="1879" width="6.2" height="30" rx="0" fill="#232323" stroke="none" stroke-width="0"/>
<rect x="1486.7" y="1879" width="6.4" height="30" rx="0" fill="#232323" stroke="none" stroke-width="0"/>
</svg>
</body>
</html>
